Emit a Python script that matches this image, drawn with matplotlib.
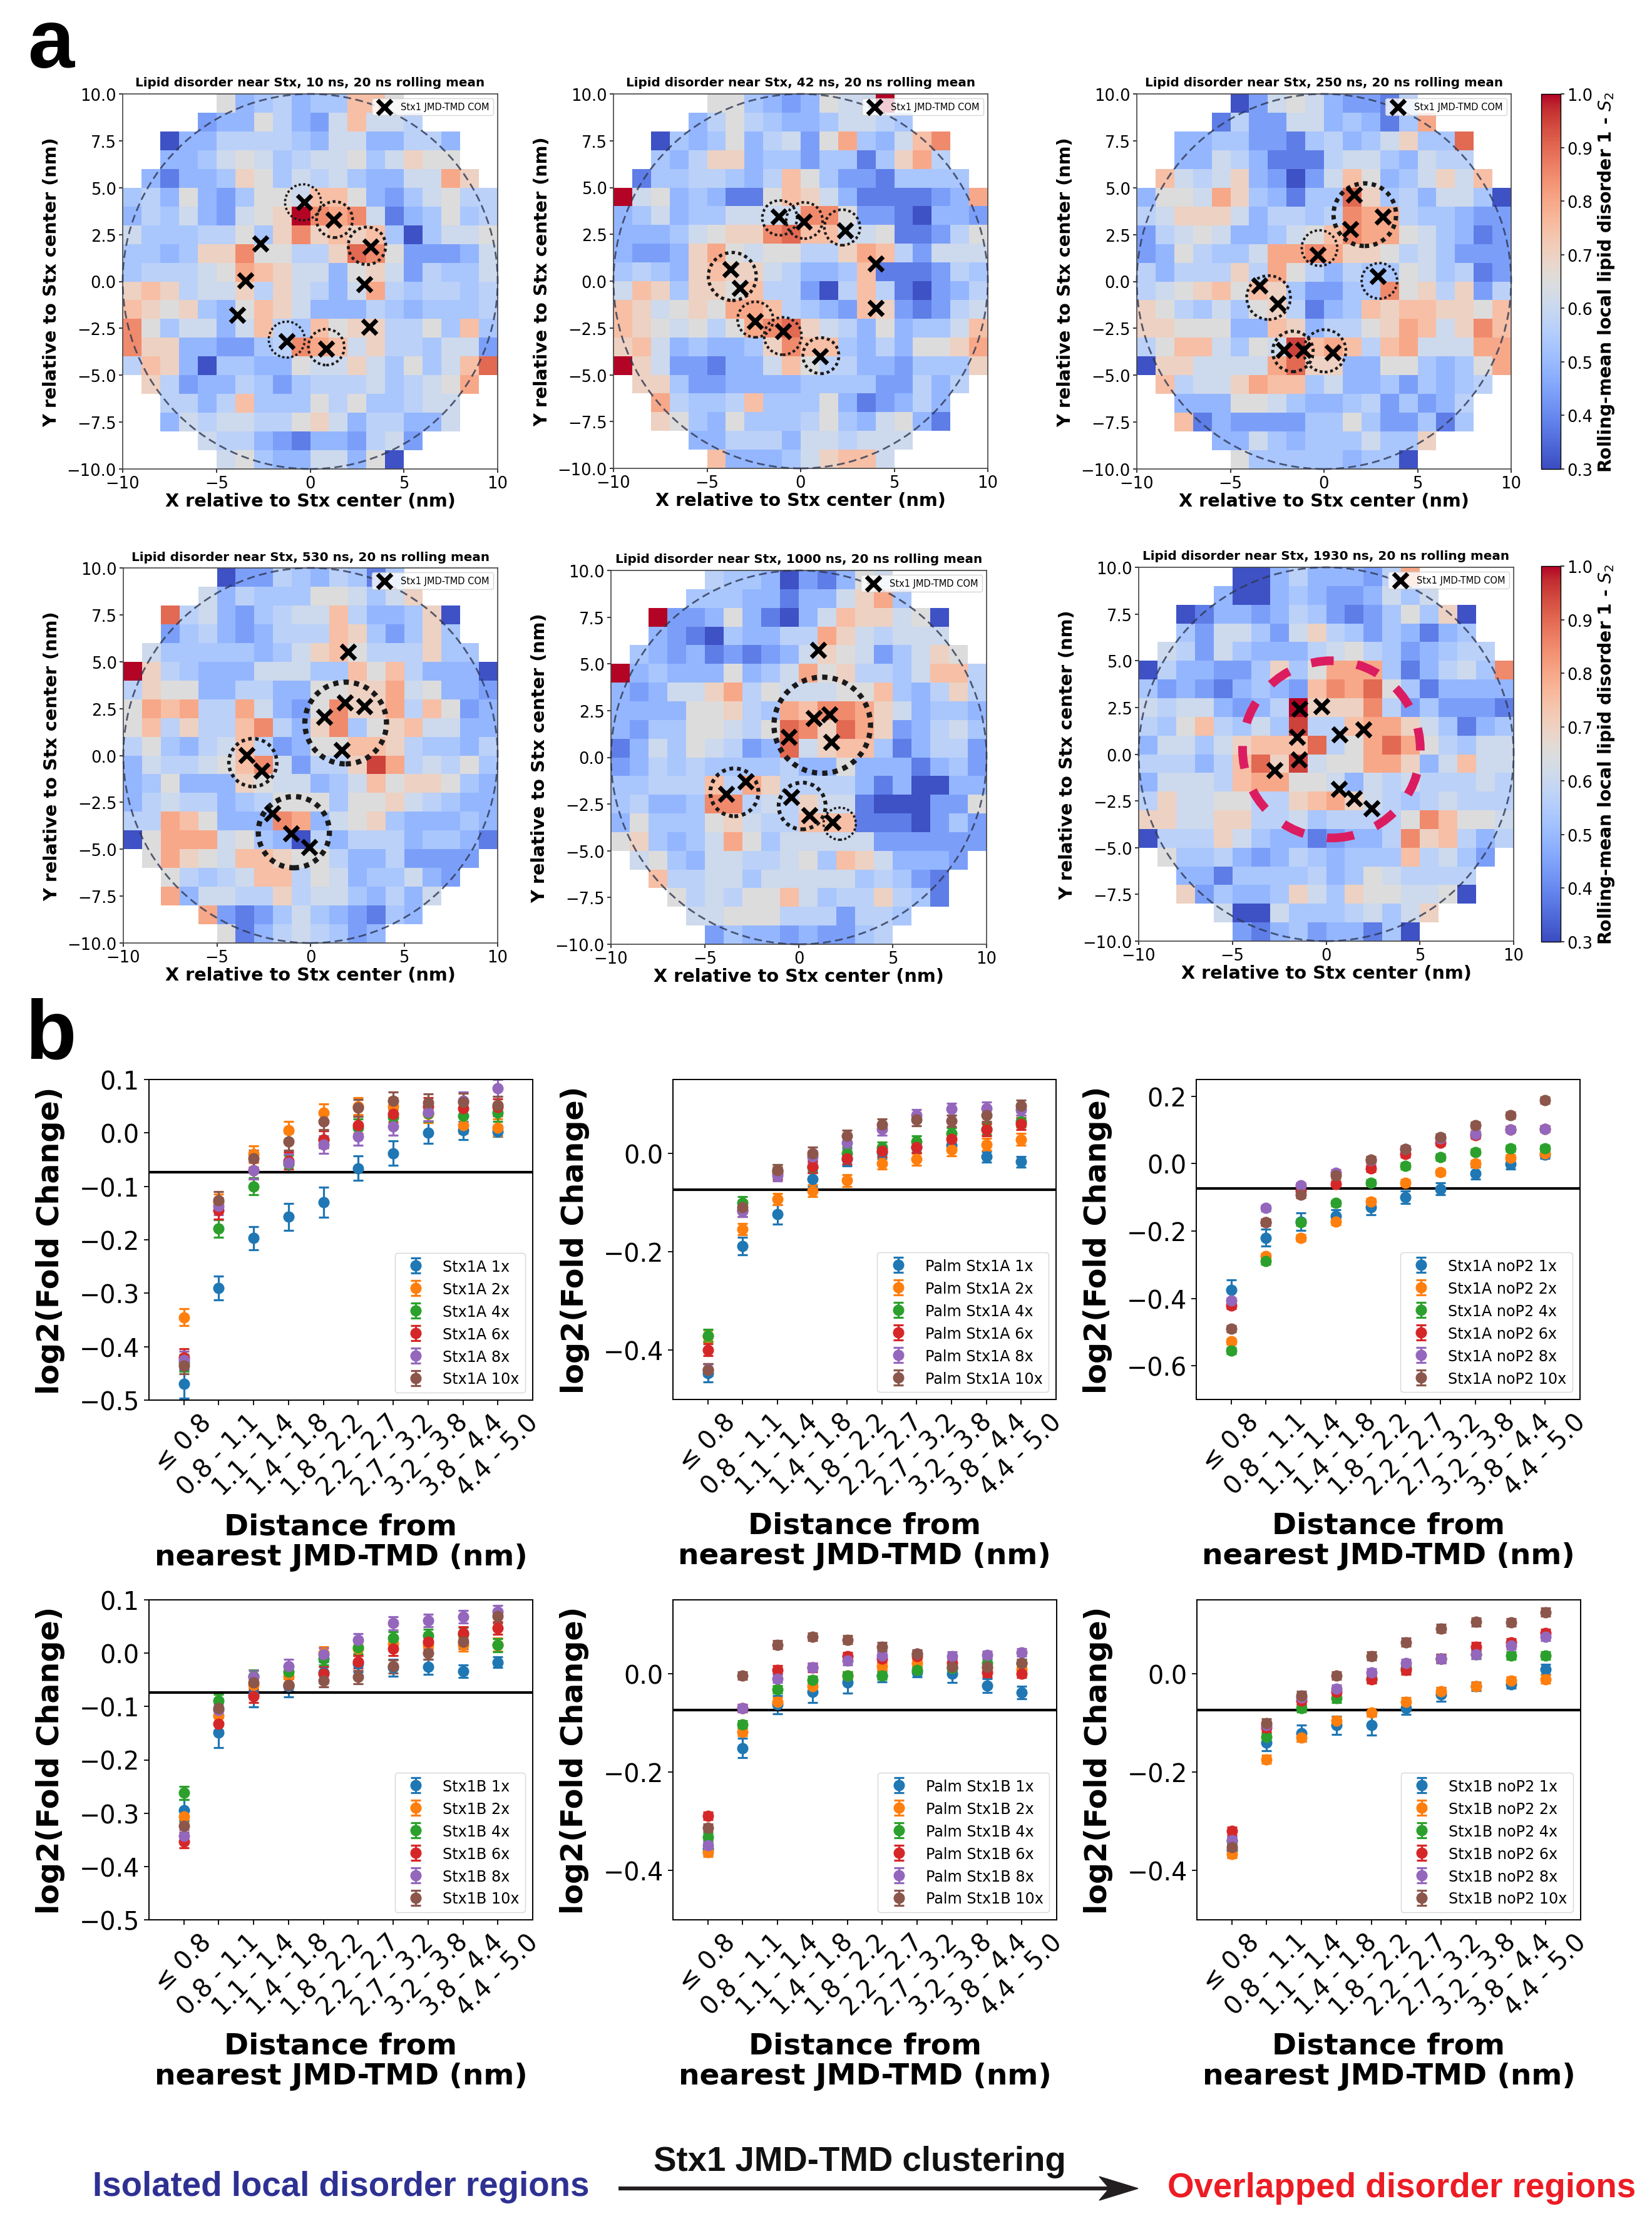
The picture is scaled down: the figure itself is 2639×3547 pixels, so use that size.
import numpy as np
import matplotlib
matplotlib.use("Agg")
import matplotlib.pyplot as plt
from matplotlib.lines import Line2D
from matplotlib.patches import Circle, Polygon

W, H = 2639, 3548

# Heat-map level codes: each character is one 1 nm cell, '.' is no data.
LEVELS = dict(zip("0123456789abcde", [0.31, 0.38, 0.44, 0.49, 0.53, 0.57, 0.61, 0.65,
                                      0.70, 0.75, 0.80, 0.85, 0.90, 0.95, 1.00]))

grid_10 = [
    ".....7345344997.....", "....233753269665....", "..0335555436633553..", "..3346764566746877..",
    ".3133487465643366a8.", "45373247769973246755", "354632678ebab6134745", "644455748b8989404667",
    "443488b77558cb722236", "455567a9866378625446", "8985668586536a545545", "98784379863335434445",
    "b7466369549788557494", "b88332245ba968554662", "5983044337668647469c", ".85233542455564567a.",
    "..5535944475744566..", "..3656655786355336..", "....655321332562....", ".....6743366370.....",
]
grid_42 = [
    ".....774323766e.....", "....357543346654....", "..0434735627a4369b..", "..43588344244148a5..",
    ".144554359742214444.", "e673431179863111123a", "3463446666bb72210332", "33346788bc9966711257",
    "32238a7677558a952666", "45438988653349111254", "69848879552059510235", "986787aa954329821256",
    "9876757abc8653734469", "896343348b994353778a", "e8622133697553324448", ".884223333444422535.",
    "..a544594447312353..", "..8743744457436731..", "....335553665666....", ".....9333468996.....",
]
grid_250 = [
    ".....0267632215.....", "....15226634314a....", "..334422145346844c..", "..3365311156643655..",
    ".965683202697346869.", "3776a843144c84536640", "56888635545baa544322", "25676334679baa764312",
    "2375446aaba887564222", "5355585a753544764512", "5678979842244b785825", "87546478513498998879",
    "88777339835578a968b9", "57996476d9a959a666aa", "0886666ac8833774347a", ".95668a994633424345.",
    "..3337764334524235..", "..9132222447422414..", "....336434446448....", ".....7444443440.....",
]
grid_530 = [
    ".....0225435414.....", "....635444776468....", "..c563245669533480..", "..2453235559842484..",
    ".644444346897555844.", "e8543336664497953330", "58773355337788a67332", "7a9a55a6327b88a59723",
    "7958559b538b47896633", "57435695237799854435", "3655679b62558da56574", "34733387663469788743",
    "35655345777477865433", "55a97333ba3678433343", "07aaa674305355534431", ".7a8769987753352222.",
    "..7545699576344632..", "..a36655856643536...", "....a21246432143....", ".....713565423......",
]
grid_1000 = [
    ".....5443021376.....", "....4443313368a4....", "..e223731036988670..", "..321043355a865666..",
    ".432312123687624687.", "e343337346a785546995", "323668a5766677943585", "333377854a9bba863443",
    "324477657cb8ca823564", "136476523c6899413552", "23545444453373331342", "4455595a855553130033",
    "45334bb5658661000227", "37444786559991110242", "784346a7466666222222", ".674366556749863332.",
    "..9556646666645421..", "...756577964558541..", "....667775552554....", ".....2433232245.....",
]
grid_1930 = [
    ".....003533325a.....", "....300343223646....", "..0133235421247480..", "..4266426854243134..",
    ".652643335675423455.", "0533224847aaa413564b", "4232134329bac7413333", "65663235e888b5242221",
    "54795464d559aa864134", "366468999c57aca75466", "555359c8d677aa836966", "366659aa776365655565",
    "5866775589a865456555", "886688556455557b9776", "05558643312335b89535", ".744532354344495642.",
    "..3314444534765555..", "..8243348648776670..", "....600644456468....", ".....2134233140.....",
]

# Protein positions (x, y in nm) at each time point.
com_10 = [(-0.33, 4.22), (1.26, 3.3), (3.22, 1.84), (-2.66, 2.03), (-3.46, 0.05),
          (2.9, -0.14), (-3.88, -1.78), (3.17, -2.42), (-1.25, -3.2), (0.86, -3.58)]
com_42 = [(-1.16, 3.45), (0.17, 3.17), (2.38, 2.71), (4.02, 0.94), (4.02, -1.44),
          (-3.76, 0.63), (-3.24, -0.36), (-2.44, -2.14), (-0.92, -2.67), (1.03, -4.03)]
com_250 = [(1.6, 4.62), (3.16, 3.47), (1.4, 2.78), (-0.34, 1.41), (2.86, 0.28),
           (-3.44, -0.21), (-2.46, -1.2), (-2.14, -3.64), (-1.1, -3.67), (0.48, -3.8)]
com_530 = [(2.02, 5.53), (1.85, 2.82), (2.87, 2.63), (0.75, 2.04), (1.68, 0.28),
           (-3.41, 0.01), (-2.62, -0.82), (-2.05, -3.1), (-1.04, -4.15), (-0.07, -4.9)]
com_1000 = [(1.02, 5.75), (0.79, 2.08), (1.64, 2.31), (-0.53, 1.08), (1.74, 0.82),
            (-2.84, -1.28), (-3.87, -1.97), (-0.41, -2.14), (0.55, -3.1), (1.81, -3.46)]
com_1930 = [(-1.41, 2.44), (-0.25, 2.57), (0.73, 1.06), (1.98, 1.32), (-1.54, 0.91),
            (-1.45, -0.3), (-2.74, -0.86), (0.7, -1.85), (1.49, -2.37), (2.41, -2.9)]

# Highlighted disorder regions: centre x, centre y, radius (nm), line width (pt).
regions_10 = [(-0.38, 4.22, 0.96, 2.6), (1.3, 3.3, 0.96, 3.2), (3.03, 1.9, 1.0, 3.4),
              (-1.25, -3.1, 0.96, 2.6), (0.86, -3.5, 0.96, 3.0)]
regions_42 = [(-1.12, 3.38, 0.93, 3.0), (0.2, 3.24, 0.97, 3.0), (2.22, 2.87, 0.95, 3.0),
              (-3.65, 0.25, 1.28, 3.8), (-2.42, -2.05, 0.95, 3.0), (-0.95, -2.93, 1.0, 3.0),
              (1.08, -3.98, 0.96, 3.4)]
regions_250 = [(2.18, 3.56, 1.67, 5.0), (-0.24, 1.78, 0.95, 2.8), (2.96, 0.03, 0.95, 2.8),
               (-2.96, -0.86, 1.17, 3.2), (-1.66, -3.73, 1.08, 3.6), (0.04, -3.7, 1.13, 3.2)]
regions_530 = [(1.88, 1.73, 2.18, 6.0), (-3.08, -0.38, 1.28, 4.0), (-0.89, -4.09, 1.9, 6.0)]
regions_1000 = [(1.25, 1.72, 2.57, 6.0), (-3.43, -1.87, 1.28, 4.4), (0.18, -2.6, 1.25, 4.4),
                (2.18, -3.55, 0.86, 2.6)]
regions_1930 = []
overlap_1930 = (0.28, 0.26, 4.74)

heat_times = [10, 42, 250, 530, 1000, 1930]
heat_grids = [grid_10, grid_42, grid_250, grid_530, grid_1000, grid_1930]
heat_coms = [com_10, com_42, com_250, com_530, com_1000, com_1930]
heat_regions = [regions_10, regions_42, regions_250, regions_530, regions_1000, regions_1930]
heat_boxes = [(196, 151, 795, 750), (980, 151, 1578, 749), (1816, 151, 2414, 750),
              (197, 908, 795, 1507), (976, 912, 1576, 1509), (1819, 907, 2418, 1504)]
cbar_boxes = [(2462, 151, 2493, 750), (2462, 905, 2493, 1505)]

distance_bins = ["\u2264 0.8", "0.8 - 1.1", "1.1 - 1.4", "1.4 - 1.8", "1.8 - 2.2",
                 "2.2 - 2.7", "2.7 - 3.2", "3.2 - 3.8", "3.8 - 4.4", "4.4 - 5.0"]
ratios = ["1x", "2x", "4x", "6x", "8x", "10x"]

stx1a = [
    [-0.47, -0.29, -0.197, -0.157, -0.13, -0.066, -0.038, 0.0, 0.005, 0.003],
    [-0.345, -0.13, -0.04, 0.005, 0.038, 0.05, 0.05, 0.035, 0.015, 0.01],
    [-0.43, -0.179, -0.1, -0.058, -0.012, 0.01, 0.03, 0.037, 0.032, 0.038],
    [-0.42, -0.145, -0.07, -0.052, -0.012, 0.015, 0.036, 0.05, 0.046, 0.048],
    [-0.425, -0.137, -0.07, -0.056, -0.022, -0.007, 0.012, 0.039, 0.06, 0.084],
    [-0.435, -0.126, -0.048, -0.016, 0.022, 0.047, 0.06, 0.057, 0.058, 0.052],
]
palm_stx1a = [
    [-0.446, -0.188, -0.124, -0.052, -0.011, 0.002, 0.013, 0.016, -0.007, -0.017],
    [-0.371, -0.154, -0.093, -0.076, -0.055, -0.02, -0.012, 0.007, 0.018, 0.028],
    [-0.37, -0.1, -0.035, -0.028, 0.0, 0.011, 0.024, 0.04, 0.05, 0.065],
    [-0.399, -0.116, -0.04, -0.027, -0.01, 0.005, 0.013, 0.029, 0.048, 0.06],
    [-0.439, -0.117, -0.044, -0.007, 0.021, 0.049, 0.077, 0.09, 0.092, 0.089],
    [-0.44, -0.109, -0.035, 0.0, 0.035, 0.058, 0.068, 0.066, 0.077, 0.096],
]
stx1a_nop2 = [
    [-0.375, -0.22, -0.172, -0.156, -0.129, -0.1, -0.075, -0.028, -0.001, 0.027],
    [-0.528, -0.275, -0.22, -0.172, -0.112, -0.057, -0.026, 0.001, 0.018, 0.031],
    [-0.555, -0.29, -0.174, -0.117, -0.056, -0.006, 0.02, 0.035, 0.045, 0.046],
    [-0.421, -0.174, -0.081, -0.061, -0.014, 0.029, 0.063, 0.084, 0.102, 0.104],
    [-0.407, -0.132, -0.065, -0.027, 0.011, 0.043, 0.075, 0.088, 0.102, 0.104],
    [-0.49, -0.174, -0.093, -0.034, 0.012, 0.044, 0.079, 0.114, 0.144, 0.189],
]
stx1b = [
    [-0.294, -0.149, -0.077, -0.062, -0.036, -0.02, -0.027, -0.026, -0.034, -0.017],
    [-0.306, -0.117, -0.06, -0.043, 0.0, 0.008, 0.018, 0.016, 0.016, 0.016],
    [-0.262, -0.089, -0.043, -0.035, -0.01, 0.011, 0.028, 0.033, 0.036, 0.015],
    [-0.353, -0.132, -0.081, -0.06, -0.038, -0.016, 0.008, 0.021, 0.038, 0.047],
    [-0.343, -0.107, -0.045, -0.024, -0.002, 0.025, 0.056, 0.061, 0.068, 0.078],
    [-0.324, -0.103, -0.055, -0.06, -0.051, -0.045, -0.025, 0.0, 0.021, 0.069],
]
palm_stx1b = [
    [-0.356, -0.151, -0.063, -0.037, -0.018, -0.004, 0.004, 0.0, -0.024, -0.038],
    [-0.363, -0.118, -0.057, -0.026, -0.004, 0.015, 0.022, 0.013, 0.011, 0.009],
    [-0.332, -0.103, -0.032, -0.013, -0.004, -0.004, 0.007, 0.011, 0.022, 0.021],
    [-0.289, -0.07, 0.008, 0.012, 0.035, 0.031, 0.035, 0.022, 0.002, 0.0],
    [-0.348, -0.07, -0.01, 0.013, 0.026, 0.037, 0.04, 0.036, 0.038, 0.043],
    [-0.313, -0.004, 0.059, 0.075, 0.069, 0.055, 0.04, 0.014, 0.014, 0.021],
]
stx1b_nop2 = [
    [-0.359, -0.14, -0.121, -0.105, -0.105, -0.07, -0.042, -0.026, -0.022, 0.009],
    [-0.366, -0.174, -0.13, -0.096, -0.079, -0.057, -0.036, -0.025, -0.014, -0.011],
    [-0.34, -0.129, -0.07, -0.05, -0.01, 0.011, 0.031, 0.039, 0.037, 0.037],
    [-0.32, -0.11, -0.055, -0.037, -0.011, 0.007, 0.031, 0.055, 0.063, 0.082],
    [-0.339, -0.105, -0.048, -0.031, 0.002, 0.021, 0.03, 0.039, 0.057, 0.075],
    [-0.353, -0.1, -0.044, -0.004, 0.036, 0.064, 0.092, 0.105, 0.104, 0.125],
]
fold_series = [stx1a, palm_stx1a, stx1a_nop2, stx1b, palm_stx1b, stx1b_nop2]

# Error bar half-heights: the 1x series by bin, then one value for the remaining ratios.
err_1x = [
    [0.027, 0.022, 0.022, 0.025, 0.028, 0.023, 0.023, 0.02, 0.017, 0.01],
    [0.019, 0.018, 0.02, 0.016, 0.014, 0.012, 0.011, 0.01, 0.011, 0.011],
    [0.03, 0.025, 0.026, 0.02, 0.022, 0.019, 0.018, 0.018, 0.015, 0.012],
    [0.02, 0.028, 0.024, 0.02, 0.02, 0.015, 0.016, 0.014, 0.012, 0.01],
    [0.012, 0.02, 0.018, 0.021, 0.022, 0.012, 0.01, 0.018, 0.014, 0.013],
    [0.012, 0.017, 0.017, 0.019, 0.02, 0.013, 0.014, 0.008, 0.007, 0.01],
]
err_other = [0.016, 0.012, 0.009, 0.012, 0.008, 0.008]
fold_names = ["Stx1A", "Palm Stx1A", "Stx1A noP2", "Stx1B", "Palm Stx1B", "Stx1B noP2"]
fold_ylims = [(-0.5, 0.1), (-0.5, 0.15), (-0.7, 0.25), (-0.5, 0.1), (-0.5, 0.15), (-0.5, 0.15)]
fold_yticks = [np.arange(-0.5, 0.11, 0.1), [-0.4, -0.2, 0.0], [-0.6, -0.4, -0.2, 0.0, 0.2],
               np.arange(-0.5, 0.11, 0.1), [-0.4, -0.2, 0.0], [-0.4, -0.2, 0.0]]
fold_boxes = [(238, 1725, 851, 2237), (1075, 1725, 1687, 2236), (1911, 1725, 2524, 2236),
              (238, 2556, 851, 3067), (1075, 2556, 1688, 3067), (1912, 2556, 2525, 3067)]
reference_level = -0.0735


def decode(rows):
    return np.array([[LEVELS.get(c, np.nan) for c in row] for row in rows])


def add_axes(box):
    left, top, right, bottom = box
    return fig.add_axes([left / W, 1 - bottom / H, (right - left) / W, (bottom - top) / H])


def fx(x):
    return x / W


def fy(y):
    return 1 - y / H


fig = plt.figure(figsize=(W / 100, H / 100), dpi=100)
edges = np.arange(-10, 11)
mesh = None

for i in range(6):
    ax = add_axes(heat_boxes[i])
    data = np.ma.masked_invalid(decode(heat_grids[i]))[::-1]
    mesh = ax.pcolormesh(edges, edges, data, cmap="coolwarm", vmin=0.3, vmax=1.0)
    ax.add_patch(Circle((0, 0), 10, fill=False, ec=(0.18, 0.22, 0.32), alpha=0.8, lw=2.0,
                        ls=(0, (4.5, 2.5)), zorder=3, clip_on=False))
    for cx, cy, r, lw in heat_regions[i]:
        ax.add_patch(Circle((cx, cy), r, fill=False, ec="#1a1a1a", lw=lw, ls=(0, (1, 1)), zorder=4))
    if i == 5:
        cx, cy, r = overlap_1930
        ax.add_patch(Circle((cx, cy), r, fill=False, ec="#DC1C60", lw=10, ls=(0, (2.6, 2.7)), zorder=4))
    xs, ys = zip(*heat_coms[i])
    ax.scatter(xs, ys, marker="x", s=270, c="black", linewidths=5.0, zorder=5, label="Stx1 JMD-TMD COM")
    ax.set_xlim(-10, 10)
    ax.set_ylim(-10, 10)
    ax.set_xticks([-10, -5, 0, 5, 10])
    ax.set_yticks([-10, -7.5, -5, -2.5, 0, 2.5, 5, 7.5, 10])
    ax.set_yticklabels(["\u221210.0", "\u22127.5", "\u22125.0", "\u22122.5", "0.0", "2.5", "5.0", "7.5", "10.0"])
    ax.tick_params(labelsize=18.5, length=4.5, width=1.1, pad=3)
    for s in ax.spines.values():
        s.set_linewidth(1.2)
        s.set_color("#444444")
    ax.set_title(f"Lipid disorder near Stx, {heat_times[i]} ns, 20 ns rolling mean",
                 fontsize=14.4, fontweight="bold", pad=9)
    ax.set_xlabel("X relative to Stx center (nm)", fontsize=20.7, fontweight="bold")
    ax.set_ylabel("Y relative to Stx center (nm)", fontsize=20.7, fontweight="bold")
    ax.xaxis.set_label_coords(0.5, -0.062)
    ax.yaxis.set_label_coords(-0.167, 0.5)
    ax.legend(loc="upper right", fontsize=10.5, framealpha=0.8)

for box in cbar_boxes:
    cax = add_axes(box)
    cb = fig.colorbar(mesh, cax=cax)
    cb.set_ticks(np.arange(0.3, 1.01, 0.1))
    cb.ax.tick_params(labelsize=18.5, length=4.5, width=1.1, pad=3)
    cb.outline.set_linewidth(1.0)
    cb.set_label("Rolling-mean local lipid disorder 1 - $S_2$", fontsize=20.3, fontweight="bold", labelpad=4)

colors = ["#1f77b4", "#ff7f0e", "#2ca02c", "#d62728", "#9467bd", "#8c564b"]
positions = np.arange(len(distance_bins))
for i in range(6):
    ax = add_axes(fold_boxes[i])
    for j, ratio in enumerate(ratios):
        err = err_1x[i] if j == 0 else err_other[i]
        ax.errorbar(positions, fold_series[i][j], yerr=err, fmt="o", ms=12, color=colors[j],
                    capsize=5.8, elinewidth=2.3, capthick=2.3, label=f"{fold_names[i]} {ratio}")
    ax.axhline(reference_level, color="black", lw=3)
    ax.set_xlim(-1, 10)
    ax.set_ylim(*fold_ylims[i])
    ax.set_yticks(fold_yticks[i])
    ax.set_xticks(positions)
    ax.set_xticklabels(distance_bins, rotation=45, ha="center")
    ax.tick_params(labelsize=28.5, length=6, width=1.3, pad=5)
    for s in ax.spines.values():
        s.set_linewidth(1.4)
    ax.set_ylabel("log2(Fold Change)", fontsize=34.3, fontweight="bold")
    ax.set_xlabel("Distance from\nnearest JMD-TMD (nm)", fontsize=33.8, fontweight="bold", linespacing=1.1)
    ax.xaxis.set_label_coords(0.5, -0.35)
    ax.yaxis.set_label_coords(-0.218, 0.5)
    ax.legend(loc="lower right", fontsize=17.2)

panel_font = ["Liberation Sans", "DejaVu Sans"]
fig.text(fx(44), fy(108), "a", fontsize=96, fontweight="bold", family=panel_font, ha="left", va="baseline")
fig.text(fx(40), fy(1690), "b", fontsize=96, fontweight="bold", family=panel_font, ha="left", va="baseline")
fig.text(fx(148), fy(3507), "Isolated local disorder regions", fontsize=39.3, fontweight="bold",
         family=panel_font, color="#2E3192", ha="left", va="baseline")
fig.text(fx(1044), fy(3467), "Stx1 JMD-TMD clustering", fontsize=39.3, fontweight="bold",
         family=panel_font, color="#111111", ha="left", va="baseline")
fig.text(fx(1865), fy(3509), "Overlapped disorder regions", fontsize=39.3, fontweight="bold",
         family=panel_font, color="#ED1C24", ha="left", va="baseline")

fig.add_artist(Line2D([fx(988), fx(1775)], [fy(3496), fy(3496)], color="#231F20", lw=4.5, solid_capstyle="butt"))
fig.add_artist(Polygon([(fx(1818), fy(3496)), (fx(1756), fy(3477)), (fx(1772), fy(3496)), (fx(1756), fy(3515))],
                       closed=True, color="#231F20", transform=fig.transFigure))

fig.savefig("out.png", dpi=100, facecolor="white")
